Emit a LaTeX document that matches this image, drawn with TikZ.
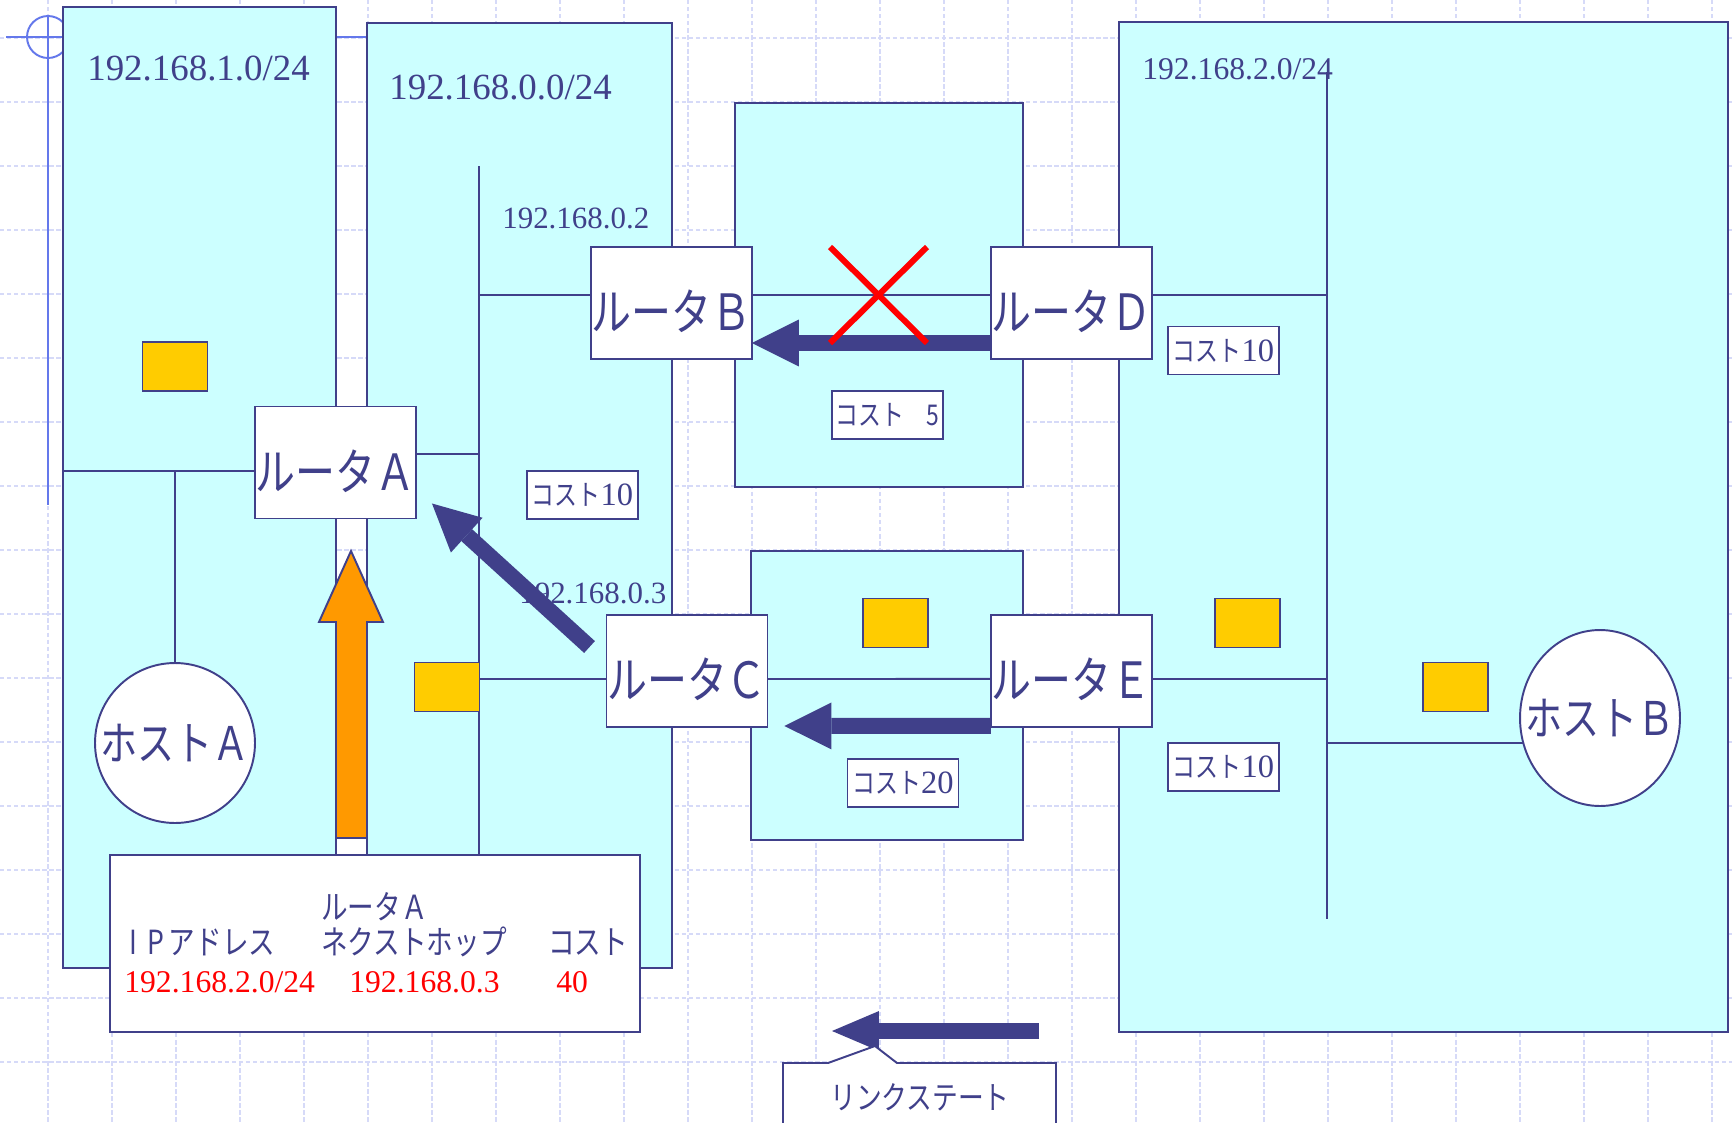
\documentclass[tikz,border=0pt]{standalone}
\usepackage{fontspec}
\setmainfont{Liberation Serif}
\newfontfamily\jp[Scale=0.88,FakeStretch=0.8]{Noto Sans CJK JP}
\usepackage{tikz}
\usetikzlibrary{shapes.geometric, arrows.meta, positioning, calc}
\pgfdeclarelayer{back}
\pgfdeclarelayer{wires}
\pgfsetlayers{back,wires,main}
\definecolor{mynavy}{RGB}{64,64,138}
\definecolor{mycyan}{RGB}{204,255,255}
\definecolor{myyellow}{RGB}{255,204,0}
\definecolor{myorange}{RGB}{255,153,0}
\definecolor{myred}{RGB}{255,0,0}
\definecolor{mygrid}{RGB}{214,218,248}
\definecolor{mycross}{RGB}{100,120,235}
\tikzset{
  net/.style={rectangle, draw=mynavy, fill=mycyan, line width=1.1pt,
    inner sep=0pt, outer sep=0pt, anchor=north west},
  router/.style={rectangle, draw=mynavy, fill=white, line width=1.1pt,
    inner sep=0pt, outer sep=0pt, minimum width=3.22cm, minimum height=2.24cm,
    text height=1.1cm, text depth=0cm,
    text=mynavy, font=\jp\fontsize{32.3}{34}\selectfont},
  host/.style={ellipse, draw=mynavy, fill=white, line width=1.1pt,
    inner sep=0pt, outer sep=0pt, minimum width=3.2cm, minimum height=3.2cm,
    text=mynavy, font=\jp\fontsize{30}{32}\selectfont},
  cost/.style={rectangle, draw=mynavy, fill=white, line width=1.1pt,
    inner sep=0pt, minimum width=2.22cm, minimum height=0.96cm,
    text=mynavy, font=\fontsize{18.5}{20}\selectfont},
  iface/.style={rectangle, draw=mynavy, fill=myyellow, line width=1.1pt,
    inner sep=0pt, minimum width=1.3cm, minimum height=0.98cm},
  addr/.style={text=mynavy, inner sep=0pt, anchor=base west},
  link/.style={draw=mynavy, line width=1.1pt},
  flow/.style={draw=mynavy, line width=0.32cm,
    -{Triangle[length=0.94cm, width=0.94cm, line width=0pt]}},
  failx/.style={draw=myred, line width=0.12cm},
  gridline/.style={draw=mygrid, line width=0.6pt, dash pattern=on 2.5pt off 1.5pt}
}

\begin{document}
\begin{tikzpicture}[x=0.02cm, y=-0.02cm,
  tblbox/.style={rectangle, draw=mynavy, fill=white, line width=1.1pt,
    inner sep=0pt, outer sep=0pt, anchor=north west,
    minimum width=10.6cm, minimum height=3.54cm},
  tbltext/.style={text=mynavy, inner sep=0pt, anchor=west,
    font=\jp\fontsize{21.5}{23}\selectfont},
  tblred/.style={text=myred, inner sep=0pt, anchor=base west,
    font=\fontsize{18}{20}\selectfont},
  callout/.style={draw=mynavy, fill=white, line width=1.1pt}]

  \useasboundingbox (0,0) rectangle (1732,1123);
  \clip (0,0) rectangle (1732,1123);

  \begin{pgfonlayer}{back}
    \fill[white] (0,0) rectangle (1732,1123);
    % Grid
    \foreach \gx in {0,...,26}
      \draw[gridline] (48+64*\gx,0) -- (48+64*\gx,1123);
    \foreach \gy in {0,...,16}
      \draw[gridline] (0,38+64*\gy) -- (1732,38+64*\gy);
    \draw[mycross, line width=1.1pt] (6,37) -- (367,37) (48,15) -- (48,505);
    \draw[mycross, line width=1.1pt] (48,37) circle[radius=0.42cm];

    % Networks
    \node[net, minimum width=5.46cm, minimum height=19.22cm] (n1) at (63,7) {};
    \node[net, minimum width=6.1cm, minimum height=18.9cm] (n0) at (367,23) {};
    \node[net, minimum width=5.76cm, minimum height=7.68cm] (nBD) at (735,103) {};
    \node[net, minimum width=5.44cm, minimum height=5.78cm] (nCE) at (751,551) {};
    \node[net, minimum width=12.18cm, minimum height=20.2cm] (n2) at (1119,22) {};
  \end{pgfonlayer}

  % Routers and hosts
  \node[router] (rA) at (335.5,462.5) {ルータＡ};
  \node[router] (rB) at (671.5,303) {ルータＢ};
  \node[router, right=4.78cm of rB] (rD) {ルータＤ};
  \node[router] (rC) at (687,671) {ルータＣ};
  \node[router, below=5.12cm of rD] (rE) {ルータＥ};
  \node[host] (hA) at (175,743) {\makebox[0pt]{ホストＡ}};
  \node[host, minimum height=3.52cm] (hB) at (1600,718) {\makebox[0pt]{ホストＢ}};

  % Interfaces
  \node[iface] (ifA) at (175,366.5) {};
  \node[iface] (if0) at (447,687) {};
  \node[iface] (ifCE) at (895.5,623) {};
  \node[iface] (ifE) at (1247.5,623) {};
  \node[iface] (ifB) at (1455.5,687) {};

  % Routing table
  \node[tblbox] (tbl) at (110,855) {};

  % Wires
  \coordinate (hAbus) at (175,471);
  \coordinate (bus0top) at (479,166);
  \coordinate (bus2top) at (1327,72);
  \coordinate (bus2bot) at (1327,919);
  \begin{pgfonlayer}{wires}
    \draw[link] (n1.west |- hAbus) -- (rA.west |- hAbus);
    \draw[link] (hAbus) -- (hA.north);
    \draw[link] (bus0top) -- (bus0top |- tbl.north);
    \draw[link] (bus2top) -- (bus2bot);
    \draw[link] ([yshift=0.17cm]rA.east) -- ([yshift=0.17cm]rA.east -| bus0top);
    \draw[link] ([yshift=0.16cm]rB.west -| bus0top) -- ([yshift=0.16cm]rB.west);
    \draw[link] ([yshift=0.16cm]rB.east) -- ([yshift=0.16cm]rD.west);
    \draw[link] ([yshift=0.16cm]rD.east) -- ([yshift=0.16cm]rD.east -| bus2top);
    \draw[link] ([yshift=-0.16cm]rC.west -| bus0top) -- ([yshift=-0.16cm]rC.west);
    \draw[link] ([yshift=-0.16cm]rC.east) -- ([yshift=-0.16cm]rE.west);
    \draw[link] ([yshift=-0.16cm]rE.east) -- ([yshift=-0.16cm]rE.east -| bus2top);
    \draw[link] ([yshift=-0.5cm]hB.center -| bus2top) -- ([yshift=-0.5cm]hB.center);
  \end{pgfonlayer}

  % Addresses
  \node[addr, font=\fontsize{21}{24}\selectfont] (l1) at (87,80) {192.168.1.0/24};
  \node[addr, font=\fontsize{21}{24}\selectfont] (l0) at (389,99) {192.168.0.0/24};
  \node[addr, font=\fontsize{18}{20}\selectfont] (l2) at (1142,79) {192.168.2.0/24};
  \node[addr, font=\fontsize{17.6}{20}\selectfont] (ipB) at (502,228) {192.168.0.2};
  \node[addr, font=\fontsize{17.6}{20}\selectfont] (ipC) at (519,603) {192.168.0.3};

  % Costs
  \node[cost] (c0) at (582.5,495) {{\jp コスト}10};
  \node[cost] (cBD) at (887.5,415) {\jp コスト　5};
  \node[cost] (cD) at (1223.5,350.5) {{\jp コスト}10};
  \node[cost] (cCE) at (903,783) {{\jp コスト}20};
  \node[cost] (cE) at (1223.5,767) {{\jp コスト}10};

  % Arrows
  \draw[flow] ([yshift=-0.8cm]rD.west) -- ([yshift=-0.8cm]rB.east);
  \draw[flow] ([yshift=-1.1cm]rE.west) -- ([yshift=-1.1cm, xshift=0.34cm]rC.east);
  \draw[flow] ([shift={(-0.34cm,-0.64cm)}]rC.north west) -- ([shift={(0.32cm,0.3cm)}]rA.south east);
  \draw[failx] (830,247) -- (927,343) (927,247) -- (830,343);

  % Table text
  \node[tbltext] (tA) at (321,907) {ルータＡ};
  \node[tbltext] (tIP) at (129,942) {I\kern0.3em P\kern0.15em アドレス};
  \node[tbltext] (tNH) at (321,942) {ネクストホップ};
  \node[tbltext] (tC) at (548,942) {コスト};
  \node[tblred] (vIP) at (124,992) {192.168.2.0/24};
  \node[tblred] (vNH) at (349,992) {192.168.0.3};
  \node[tblred] (vC) at (556,992) {40};

  % Orange arrow
  \draw[draw=mynavy, fill=myorange, line width=1.1pt]
    (336,838) -- (336,622) -- (319,622) -- (351,551) -- (383,622) -- (367,622) -- (367,838) -- cycle;

  % Link state legend
  \coordinate (lsTail) at (1039,1031);
  \coordinate (lsTip) at (832,1031);
  \draw[flow, -{Triangle[length=0.94cm, width=0.8cm, line width=0pt]}] (lsTail) -- (lsTip);
  \draw[callout] (783,1140) -- (783,1063) -- (828,1063) -- (875,1046) -- (897,1063) -- (1056,1063) -- (1056,1140);
  \node[text=mynavy, font=\jp\fontsize{20.8}{22}\selectfont] (ls) at (920,1097) {リンクステート};
\end{tikzpicture}
\end{document}
